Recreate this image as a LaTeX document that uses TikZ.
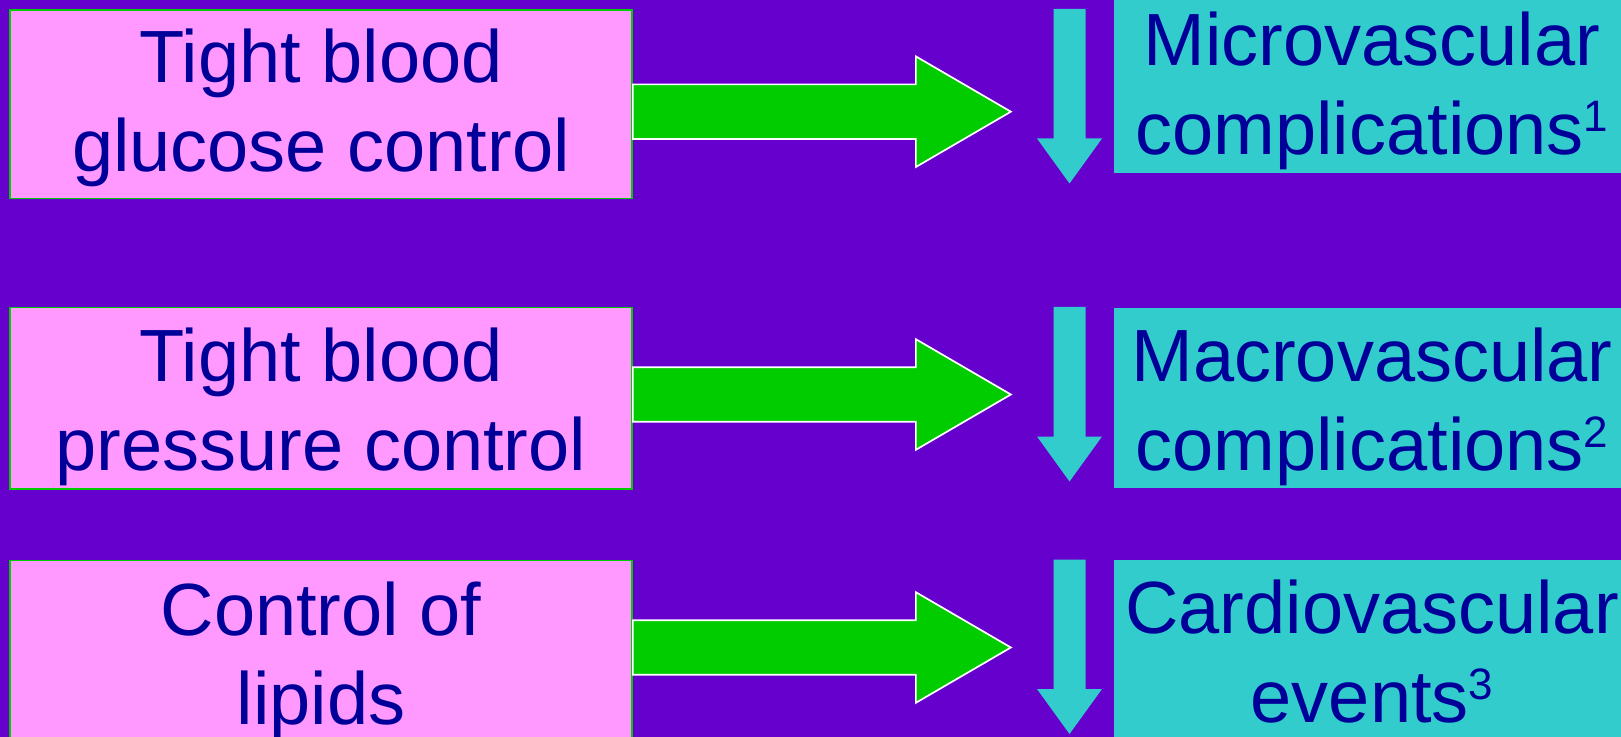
\documentclass[tikz,border=0pt]{standalone}
\usepackage{fontspec}
\setmainfont{Liberation Sans}
\usetikzlibrary{calc}

\definecolor{bgpurple}{HTML}{6600CC}
\definecolor{boxpink}{HTML}{FF99FF}
\definecolor{arrgreen}{HTML}{00CC00}
\definecolor{outcyan}{HTML}{33CCCC}
\definecolor{textblue}{HTML}{000099}

% small raised reference number
\newcommand{\refnum}[1]{\raisebox{11.5pt}{\fontsize{22}{22}\selectfont #1}}

\tikzset{
  measure/.style={fill=boxpink, draw=arrgreen, line width=0.85pt, inner sep=0pt},
  outcome/.style={fill=outcyan, draw=none, inner sep=0pt},
  label/.style={text=textblue, align=center, inner sep=0pt,
    font=\fontsize{37}{44.5}\selectfont},
  rightarrow/.pic={
    \draw[fill=arrgreen, draw=white, line width=0.85pt]
      (0,-27.3) -- (283,-27.3) -- (283,-55.3) -- (378,0) -- (283,55.3)
      -- (283,27.3) -- (0,27.3) -- cycle;
  },
  downarrow/.pic={
    \fill[outcyan] (-16,0) -- (16,0) -- (16,129.5) -- (32.5,129.5)
      -- (0,174.5) -- (-32.5,129.5) -- (-16,129.5) -- cycle;
  }
}

\begin{document}
\begin{tikzpicture}[x=0.5pt, y=-0.5pt]
  \useasboundingbox (0,0) rectangle (1621,737);
  \clip (0,0) rectangle (1621,737);
  \fill[bgpurple] (0,0) rectangle (1621,737);

  % treatment boxes
  \node[measure, minimum width=311pt, minimum height=94.25pt] (m1) at (321,104.25) {};
  \node[measure, minimum width=311pt, minimum height=90.75pt] (m2) at (321,398.25) {};
  \node[measure, minimum width=311pt, minimum height=92.25pt] (m3) at (321,652.75) {};

  % outcome boxes
  \node[outcome, minimum width=258pt, minimum height=89.25pt] (o1) at (1372.25,84.25) {};
  \node[outcome, minimum width=258pt, minimum height=89.75pt] (o2) at (1372.25,397.75) {};
  \node[outcome, minimum width=258pt, minimum height=92.5pt] (o3) at (1372.25,652.5) {};

  % treatment labels (base anchor sits on the last line)
  \node[label, anchor=base] (l1) at (321,172) {Tight blood\\glucose control};
  \node[label, anchor=base] (l2) at (321,470) {Tight blood\\pressure control};
  \node[label, anchor=base] (l3) at (321,724) {Control of\\lipids};

  % outcome labels
  \node[label, anchor=base] (r1) at (1372,155) {Microvascular\\complications\refnum{1}};
  \node[label, anchor=base] (r2) at (1372,470) {Macrovascular\\complications\refnum{2}};
  \node[label, anchor=base] (r3) at (1372,722) {Cardiovascular\\events\refnum{3}};

  % arrows from each treatment towards its outcome
  \pic at (m1.east |- 0,111.7) {rightarrow};
  \pic at (m2.east |- 0,394.5) {rightarrow};
  \pic at (m3.east |- 0,647.5) {rightarrow};

  % "reduced" arrows in front of the outcomes
  \pic at (1069.5,9) {downarrow};
  \pic at (1069.5,307) {downarrow};
  \pic at (1069.5,559.5) {downarrow};
\end{tikzpicture}
\end{document}
